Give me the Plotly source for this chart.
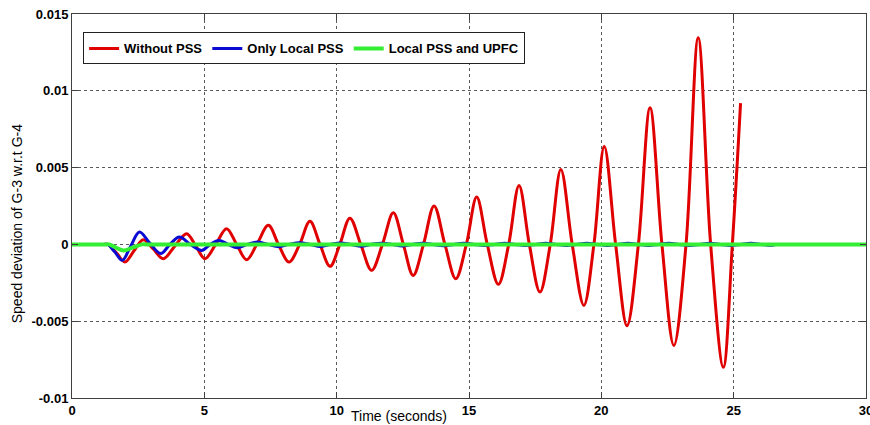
import plotly.graph_objects as go

# ---------------- data ----------------
red_t = [0, 1.2, 1.35, 1.7, 2.0, 2.35, 2.69, 3.07, 3.45, 3.89, 4.33, 4.68, 5.02, 5.43, 5.84,
         6.22, 6.60, 7.01, 7.42, 7.8, 8.2, 8.6, 8.99, 9.37, 9.75, 10.12, 10.50, 10.91,
         11.32, 11.73, 12.14, 12.52, 12.89, 13.28, 13.68, 14.09, 14.50, 14.9, 15.29,
         15.69, 16.11, 16.5, 16.89, 17.28, 17.68, 18.07, 18.47, 18.9, 19.34, 19.72,
         20.11, 20.54, 20.97, 21.4, 21.84, 22.29, 22.74, 23.2, 23.66, 24.13, 24.61,
         24.95, 25.26]
red_v = [0, 0, 0, -0.0006, -0.00115, -0.0004, 0.0003, -0.0003, -0.00093, -0.0001, 0.0007,
         -0.0001, -0.00093, 0.0, 0.00102, 0.0, -0.001, 0.0001, 0.00124, 0.0, -0.00115,
         0.0, 0.0015, 0.0, -0.00143, 0.0, 0.00171, 0.0, -0.00169, 0.0, 0.00206, 0.0,
         -0.00202, 0.0, 0.0025, 0.0, -0.00223, 0.0, 0.00308, 0.0, -0.0026, 0.0, 0.00384,
         0.0, -0.0031, 0.0, 0.00488, 0.0, -0.00397, 0.0, 0.00638, 0.0, -0.0053, 0.0,
         0.0089, 0.0, -0.00658, 0.0, 0.01346, 0.0, -0.008, 0.0, 0.0092]

blue_t = [0, 1.2, 1.35, 1.62, 1.9, 2.22, 2.55, 2.93, 3.35, 3.7, 4.06, 4.47, 4.9, 5.22, 5.55,
          5.9, 6.25, 6.62, 7.0, 7.4, 7.82,
          8.2, 8.6, 9.0, 9.38, 9.76, 10.15, 10.54, 10.93, 11.3, 11.7, 12.1, 12.48,
          12.86, 13.25, 13.64, 14.03, 14.42, 14.8, 15.2, 15.58, 15.96, 16.35, 16.74,
          17.13, 17.52, 17.9, 18.3, 18.68, 19.06, 19.45, 19.84, 20.23, 20.62, 21.0,
          21.4, 21.78, 22.16, 22.55, 22.94, 23.33, 23.72, 24.1, 24.5, 24.88, 25.26,
          25.65, 26.04, 26.43, 26.6]
blue_v = [0, 0, 0, -0.0005, -0.00104, -0.0001, 0.0008, 0.0001, -0.0006, 0, 0.00048, 0,
          -0.00039, 0, 0.00026, 0, -0.00021, 0, 0.00015, 0, -0.00015,
          0, 0.0001, 0, -0.00014, 0, 0.00009, 0, -0.00012, 0, 0.00008, 0, -0.0001,
          0, 0.00007, 0, -0.00008, 0, 0.00007, 0, -0.00007, 0, 0.00007, 0,
          -0.00007, 0, 0.00007, 0, -0.00007, 0, 0.00007, 0, -0.00007, 0, 0.00007,
          0, -0.00007, 0, 0.00007, 0, -0.00007, 0, 0.00007, 0, -0.00007, 0,
          0.00007, 0, -0.00006, 0]

green_t = [0, 1.3, 1.4, 1.65, 1.95, 2.3, 2.65, 2.8, 29.0, 30]
green_v = [0, 0, 0, -0.0002, -0.0004, -0.0002, 0, 0, 0, 0]

series_names = ["Without PSS", "Only Local PSS", "Local PSS and UPFC"]

x_ticks = [0, 5, 10, 15, 20, 25, 30]
x_tick_labels = ["0", "5", "10", "15", "20", "25", "30"]
y_ticks = [-0.01, -0.005, 0, 0.005, 0.01, 0.015]
y_tick_labels = ["-0.01", "-0.005", "0", "0.005", "0.01", "0.015"]

x_title = "Time (seconds)"
y_title = "Speed deviation of G-3 w.r.t G-4"

# ---------------- figure ----------------
FONT = "Arial, Liberation Sans, sans-serif"

fig = go.Figure()
fig.add_trace(go.Scatter(x=red_t, y=red_v, mode="lines", name=series_names[0],
                         line=dict(color="#e00000", width=3, shape="spline", smoothing=1)))
fig.add_trace(go.Scatter(x=blue_t, y=blue_v, mode="lines", name=series_names[1],
                         line=dict(color="#0a0ad2", width=3, shape="spline", smoothing=1)))
fig.add_trace(go.Scatter(x=green_t, y=green_v, mode="lines", name=series_names[2],
                         line=dict(color="#33ee33", width=4, shape="spline", smoothing=1)))

axis_common = dict(
    showline=True, linecolor="#404040", linewidth=1, mirror="ticks",
    ticks="inside", ticklen=6, tickcolor="#404040",
    showgrid=True, gridcolor="#5a5a5a", griddash="dot", gridwidth=1,
    zeroline=False, ticklabeloverflow="allow",
    tickfont=dict(family=FONT, size=13, color="#000", weight="bold"),
)

fig.update_xaxes(range=[0, 30], tickvals=x_ticks, ticktext=x_tick_labels, **axis_common)
fig.update_yaxes(range=[-0.01, 0.015], tickvals=y_ticks, ticktext=y_tick_labels, **axis_common)

fig.update_layout(
    width=870, height=425,
    margin=dict(l=72, r=4, t=14, b=27, pad=0, autoexpand=False),
    paper_bgcolor="white", plot_bgcolor="white",
    font=dict(family=FONT, color="#000"),
    showlegend=True,
    legend=dict(
        orientation="h", x=0.014, y=0.952, xanchor="left", yanchor="top",
        bgcolor="white", bordercolor="#222", borderwidth=1,
        font=dict(family=FONT, size=13, color="#000", weight="bold"),
        itemwidth=30, tracegroupgap=0,
    ),
    annotations=[
        dict(text=x_title, xref="paper", yref="paper", x=0.412, y=-0.047,
             xanchor="center", yanchor="middle", showarrow=False,
             font=dict(family=FONT, size=14, color="#000")),
        dict(text=y_title, xref="paper", yref="paper", x=-0.0693, y=0.455,
             xanchor="center", yanchor="middle", showarrow=False, textangle=-90,
             font=dict(family=FONT, size=14, color="#000")),
    ],
)

fig.write_html("out.html", config={"displayModeBar": False},
               post_script="document.body.style.margin='0px';document.body.style.overflow='hidden';")
